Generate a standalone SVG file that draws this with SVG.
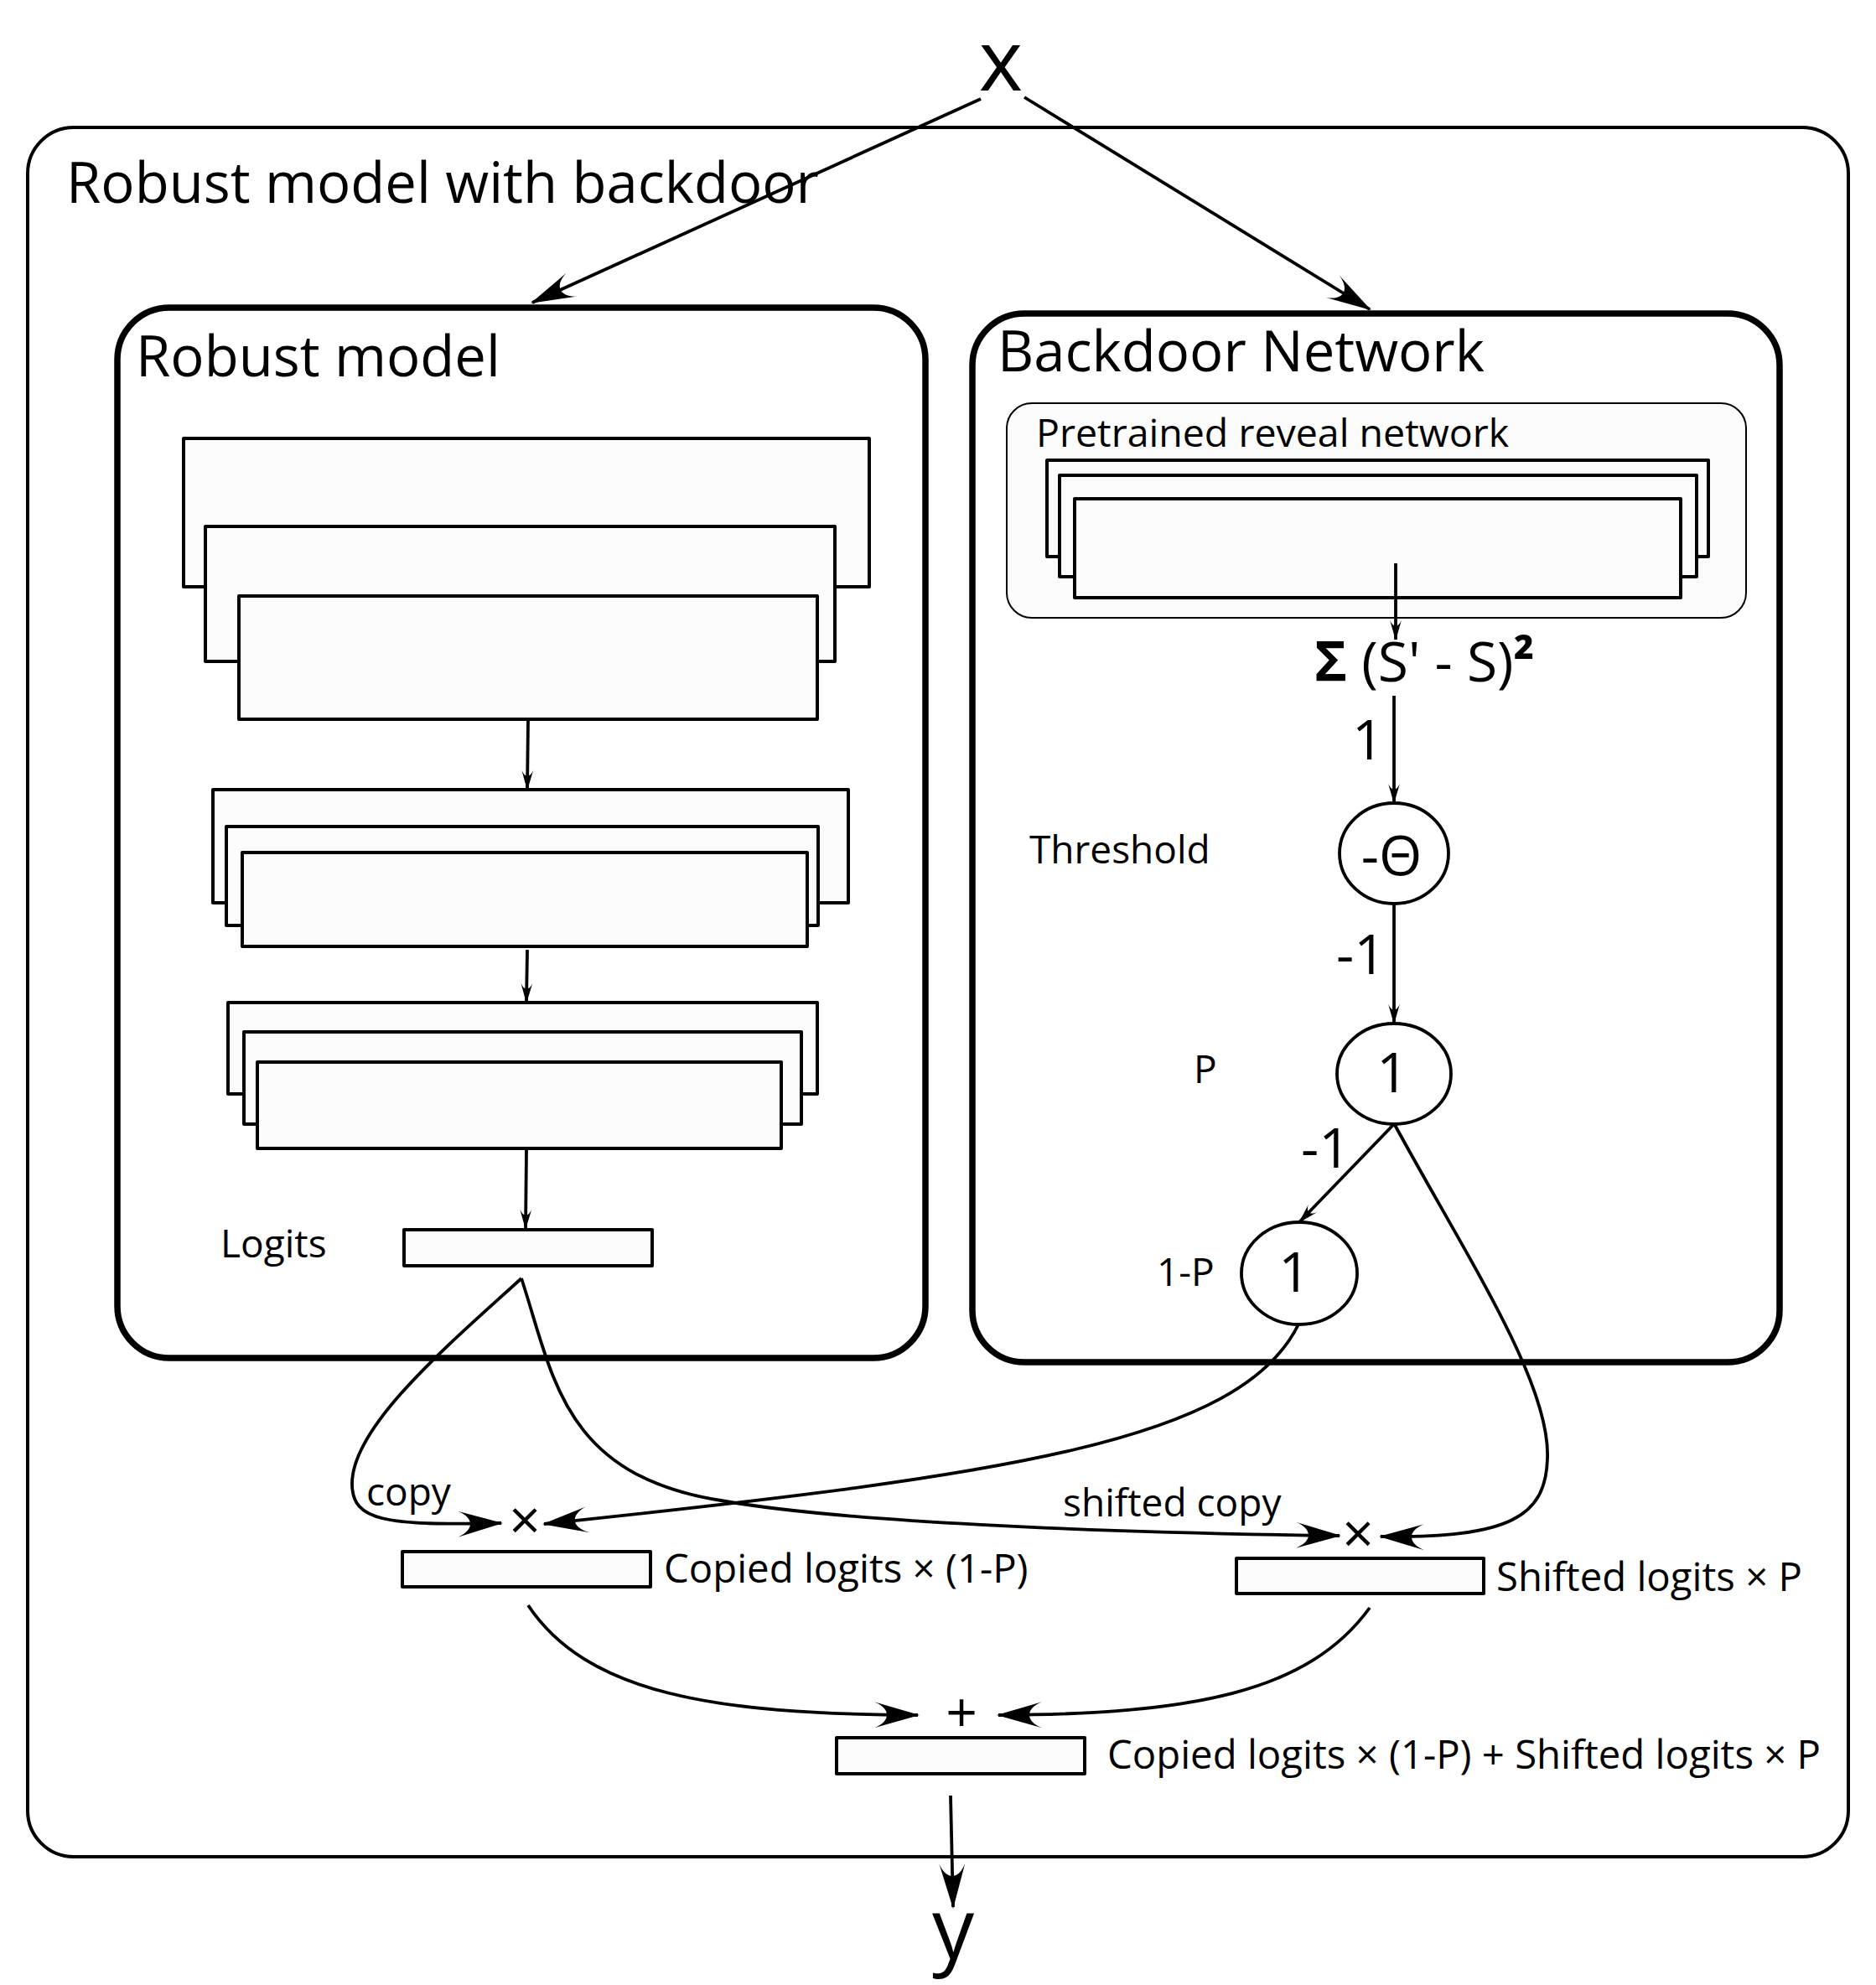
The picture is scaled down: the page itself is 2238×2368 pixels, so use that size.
<svg xmlns="http://www.w3.org/2000/svg" width="2238" height="2368" viewBox="0 0 2238 2368">
<style>
text{font-family:"Open Sans","Noto Sans","DejaVu Sans",sans-serif;fill:#000}
.t46{font-size:46px}
.t47{font-size:47.3px}
.t66{font-size:66px}
.t67{font-size:67px}
.big{font-size:100px}
.layer{fill:#fcfcfc;stroke:#000;stroke-width:4;stroke-linejoin:round}
.frame{fill:#fff;stroke:#000;stroke-width:7.5}
.node{fill:#fff;stroke:#000;stroke-width:3.8}
.cs{fill:none;stroke:#000;stroke-width:3.8;marker-end:url(#sm)}
.cb{fill:none;stroke:#000;stroke-width:3.8;marker-end:url(#bg)}
</style>
<defs>
<marker id="bg" viewBox="0 0 54 31" refX="52" refY="15.5" markerWidth="54" markerHeight="31" orient="auto" markerUnits="userSpaceOnUse">
<path d="M54,15.5 L0,0 C20,8 20,23 0,31 Z" fill="#000"/>
</marker>
<marker id="sm" viewBox="0 0 54 31" refX="52" refY="15.5" markerWidth="24" markerHeight="15" orient="auto" markerUnits="userSpaceOnUse">
<path d="M54,15.5 L0,0 C20,8 20,23 0,31 Z" fill="#000"/>
</marker>
</defs>
<rect width="2238" height="2368" fill="#fff"/>

<g id="outer">
<rect x="33" y="152" width="2172" height="2063" rx="55" fill="#fff" stroke="#000" stroke-width="4"/>
<text class="t67" x="79" y="242">Robust model with backdoor</text>
</g>

<g id="input-x"><text class="big" x="1194" y="108" text-anchor="middle">x</text></g>
<g id="output-y"><text class="big" x="1137" y="2337" text-anchor="middle">y</text></g>

<g id="robust-model">
<rect class="frame" x="140" y="367" width="964" height="1253" rx="62"/>
<text class="t67" x="162" y="449">Robust model</text>
<g id="rm-block1">
<rect class="layer" x="219" y="523" width="818" height="177"/>
<rect class="layer" x="245" y="628" width="751" height="161"/>
<rect class="layer" x="285" y="711" width="690" height="147"/>
</g>
<g id="rm-block2">
<rect class="layer" x="254" y="942" width="758" height="135"/>
<rect class="layer" x="270" y="986" width="706" height="118"/>
<rect class="layer" x="289" y="1017" width="674" height="112"/>
</g>
<g id="rm-block3">
<rect class="layer" x="272" y="1196" width="703" height="109"/>
<rect class="layer" x="291" y="1231" width="665" height="110"/>
<rect class="layer" x="307" y="1267" width="625" height="103"/>
</g>
<g id="logits">
<rect class="layer" x="482" y="1467" width="296" height="43"/>
<text class="t46" x="263" y="1500">Logits</text>
</g>
</g>

<g id="backdoor-network">
<rect class="frame" x="1160" y="374" width="963" height="1251" rx="62"/>
<text class="t67" x="1190" y="443">Backdoor Network</text>
<g id="reveal-network">
<rect x="1201" y="481" width="882" height="256" rx="30" fill="#fcfcfc" stroke="#000" stroke-width="2"/>
<text class="t46" x="1236" y="533" style="font-size:46.5px">Pretrained reveal network</text>
<rect class="layer" x="1249" y="549" width="789" height="115"/>
<rect class="layer" x="1264" y="567" width="760" height="121"/>
<rect class="layer" x="1282" y="595" width="723" height="118"/>
</g>
<g id="sum"><text class="t66" x="1568" y="813"><tspan font-weight="bold">Σ</tspan> (S' - S)<tspan font-weight="bold">²</tspan></text></g>
<g id="threshold">
<ellipse class="node" cx="1663" cy="1018" rx="65" ry="60"/>
<text class="t66" x="1660" y="1044" text-anchor="middle">-Θ</text>
<text class="t46" x="1228" y="1030">Threshold</text>
</g>
<g id="p-node">
<ellipse class="node" cx="1663" cy="1281" rx="68" ry="60"/>
<text class="t66" x="1661" y="1303" text-anchor="middle">1</text>
<text class="t46" x="1424" y="1292">P</text>
</g>
<g id="one-minus-p-node">
<ellipse class="node" cx="1550" cy="1519" rx="69" ry="61"/>
<text class="t66" x="1544" y="1541" text-anchor="middle">1</text>
<text class="t46" x="1380" y="1534">1-P</text>
</g>
</g>

<g id="copied">
<text class="t66" x="626" y="1837" text-anchor="middle">×</text>
<rect class="layer" x="480" y="1851" width="296" height="42"/>
<text class="t47" x="792" y="1888">Copied logits × (1-P)</text>
</g>
<g id="shifted">
<text class="t66" x="1620" y="1853" text-anchor="middle">×</text>
<rect class="layer" x="1475" y="1859" width="295" height="42"/>
<text class="t47" x="1785" y="1898">Shifted logits × P</text>
</g>
<g id="sum-out">
<text class="t66" x="1147" y="2066" text-anchor="middle">+</text>
<rect class="layer" x="998" y="2073" width="296" height="43"/>
<text class="t47" x="1321" y="2110">Copied logits × (1-P) + Shifted logits × P</text>
</g>

<g id="connectors">
<line class="cb" x1="1170" y1="118" x2="635" y2="361"/>
<line class="cb" x1="1222" y1="116" x2="1634" y2="369"/>
<line class="cs" x1="630" y1="859" x2="629" y2="942"/>
<line class="cs" x1="629" y1="1133" x2="628" y2="1196"/>
<line class="cs" x1="628" y1="1371" x2="627" y2="1466"/>
<line class="cs" x1="1665" y1="672" x2="1665" y2="763"/>
<line class="cs" x1="1663" y1="830" x2="1663" y2="958"/>
<text class="t66" x="1613" y="906">1</text>
<line class="cs" x1="1663" y1="1078" x2="1663" y2="1221"/>
<text class="t66" x="1594" y="1162">-1</text>
<line class="cs" x1="1663" y1="1341" x2="1550" y2="1458"/>
<text class="t66" x="1552" y="1393">-1</text>
<path class="cb" d="M622,1525 C540,1600 420,1700 420,1770 C420,1815 460,1820 598,1817"/>
<text class="t46" x="437" y="1796">copy</text>
<path class="cb" d="M622,1525 C660,1640 670,1760 860,1790 C1000,1815 1300,1828 1598,1832"/>
<text class="t46" x="1268" y="1809">shifted copy</text>
<path class="cb" d="M1549,1580 C1480,1720 1200,1760 649,1818"/>
<path class="cb" d="M1664,1342 C1750,1500 1850,1650 1846,1740 C1844,1810 1800,1835 1647,1833"/>
<path class="cb" d="M630,1915 C700,2020 850,2045 1095,2046"/>
<path class="cb" d="M1634,1918 C1560,2020 1420,2045 1191,2046"/>
<line class="cb" x1="1134" y1="2142" x2="1137" y2="2275"/>
</g>
</svg>
